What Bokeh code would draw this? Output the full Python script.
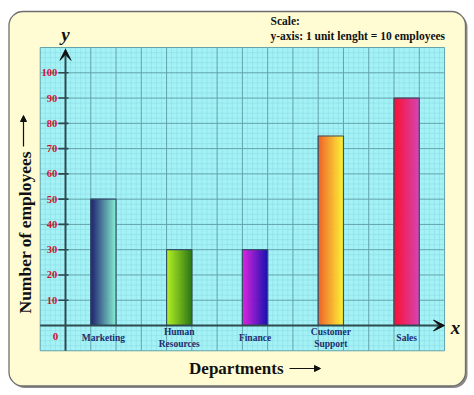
import numpy as np
from bokeh.plotting import figure
from bokeh.models import Range1d, Arrow, VeeHead, NormalHead
from bokeh.core.properties import value
from bokeh.embed import file_html
from bokeh.resources import INLINE

# ---- data ----
departments = ["Marketing", "Human\nResources", "Finance", "Customer\nSupport", "Sales"]
employees = [50, 30, 30, 75, 90]
y_ticks = [10, 20, 30, 40, 50, 60, 70, 80, 90, 100]
y_tick_labels = [str(t) for t in y_ticks]
scale_title = "Scale:"
scale_text = "y-axis: 1 unit lenght = 10 employees"

# ---- styles ----
left_colors = ["#1c1a6a", "#b8f422", "#e422e0", "#f25e28", "#ff0c2c"]
right_colors = ["#84ecd0", "#2c7612", "#1a0eae", "#fff232", "#d842b2"]
FONT = value("Liberation Serif")

# screen -> data helpers for decoration only (x0 at 65px, 25.27px per cell; y0 at 325px, 2.527px per unit)
def sx(px):
    return (px - 65.0) / 25.27

def sy(py):
    return (325.0 - py) / 2.527

W, H = 474, 395
p = figure(width=W, height=H, x_range=Range1d(sx(0), sx(W)), y_range=Range1d(sy(H), sy(0)),
           toolbar_location=None, output_backend="svg", min_border=0,
           x_axis_location=None, y_axis_location=None)
p.grid.visible = False
p.outline_line_color = None
p.background_fill_color = "white"
p.border_fill_color = "white"

# panel shadow + cream panel
p.quad(left=sx(10.5), right=sx(467), top=sy(13), bottom=sy(387.5), fill_color="#8a8a8a",
       line_color=None, border_radius=14)
p.quad(left=sx(8.5), right=sx(465), top=sy(11), bottom=sy(385.5), fill_color="#fffbd2",
       line_color="#6e6e6e", line_width=1.3, border_radius=14)

# grid area
gx0, gx1 = -1, 15
gy0, gy1 = -10, 110
p.quad(left=gx0, right=gx1, top=gy1, bottom=gy0, fill_color="#a4f2f6", line_color=None)
mx = [v for v in np.arange(gx0, gx1 + 1e-9, 0.2) if abs(v - round(v)) > 1e-6]
my = [v for v in np.arange(gy0, gy1 + 1e-9, 2.0) if abs(v / 10 - round(v / 10)) > 1e-6]
p.segment(x0=mx, x1=mx, y0=gy0, y1=gy1, line_color="#8cdde6", line_width=0.6)
p.segment(x0=gx0, x1=gx1, y0=my, y1=my, line_color="#8cdde6", line_width=0.6)
Mx = list(np.arange(gx0, gx1 + 1e-9, 1.0))
My = list(np.arange(gy0, gy1 + 1e-9, 10.0))
p.segment(x0=Mx, x1=Mx, y0=gy0, y1=gy1, line_color="#63a3ab", line_width=1)
p.segment(x0=gx0, x1=gx1, y0=My, y1=My, line_color="#63a3ab", line_width=1)

# gradient bars
def hex2rgb(h):
    return np.array([int(h[i:i + 2], 16) for i in (1, 3, 5)], dtype=float)

pos = np.arange(len(departments)) * 3 + 1.0
n = 36
for i, v in enumerate(employees):
    c0, c1 = hex2rgb(left_colors[i]), hex2rgb(right_colors[i])
    t = (np.arange(n) + 0.5) / n
    cols = ["#%02x%02x%02x" % tuple(int(round(c)) for c in (c0 + (c1 - c0) * tt)) for tt in t]
    lefts = pos[i] + np.arange(n) / n
    p.quad(left=lefts, right=lefts + 1.0 / n, bottom=0, top=v, fill_color=cols, line_color=cols,
           line_width=0.6)
p.quad(left=pos, right=pos + 1, bottom=0, top=employees, fill_color=None, line_color="#34506a",
       line_width=1.2)

# axes
axis_col = "#2c4a50"
p.add_layout(Arrow(end=VeeHead(size=11, fill_color="#111111", line_color="#111111"),
                   x_start=gx0, y_start=0, x_end=15.0, y_end=0, line_color=axis_col, line_width=2))
p.add_layout(Arrow(end=VeeHead(size=11, fill_color="#111111", line_color="#111111"),
                   x_start=0, y_start=gy0, x_end=0, y_end=109.3, line_color=axis_col, line_width=2))
p.segment(x0=-0.28, x1=0.12, y0=y_ticks, y1=y_ticks, line_color=axis_col, line_width=1.6)

# y tick labels
p.text(x=-0.33, y=y_ticks, text=y_tick_labels, text_font=FONT, text_font_style="bold",
       text_font_size="10.5px", text_color="#d0122e", text_align="right", text_baseline="middle")
p.text(x=[-0.4], y=[-4.5], text=["0"], text_font=FONT, text_font_style="bold",
       text_font_size="11px", text_color="#d0122e", text_align="center", text_baseline="middle")

# category labels
p.text(x=pos + 0.5, y=-5.0, text=departments, text_font=FONT, text_font_style="bold",
       text_font_size="9.5px", text_color="#1c2d6e", text_align="center", text_baseline="middle",
       text_line_height=1.15)

# axis letters
p.text(x=[0], y=[sy(34)], text=["y"], text_font=FONT, text_font_style="bold italic",
       text_font_size="19px", text_color="#111111", text_align="center", text_baseline="middle")
p.text(x=[sx(455)], y=[sy(327)], text=["x"], text_font=FONT, text_font_style="bold italic",
       text_font_size="19px", text_color="#111111", text_align="center", text_baseline="middle")

# scale note
p.text(x=[sx(270)], y=[sy(20)], text=[scale_title], text_font=FONT, text_font_style="bold",
       text_font_size="11.5px", text_color="#111111", text_align="left", text_baseline="middle")
p.text(x=[sx(270)], y=[sy(35)], text=[scale_text], text_font=FONT, text_font_style="bold",
       text_font_size="11.5px", text_color="#111111", text_align="left", text_baseline="middle")

# axis titles
p.text(x=[sx(283)], y=[sy(368)], text=["Departments"], text_font=FONT, text_font_style="bold",
       text_font_size="17px", text_color="#111111", text_align="right", text_baseline="middle")
p.add_layout(Arrow(end=NormalHead(size=6, fill_color="#111111", line_color="#111111"),
                   x_start=sx(289), y_start=sy(368), x_end=sx(320), y_end=sy(368),
                   line_color="#111111", line_width=1.2))
p.text(x=[sx(24)], y=[sy(313)], text=["Number of employees"], text_font=FONT, text_font_style="bold",
       text_font_size="17.5px", text_color="#111111", text_align="left", text_baseline="middle",
       angle=np.pi / 2)
p.add_layout(Arrow(end=NormalHead(size=6, fill_color="#111111", line_color="#111111"),
                   x_start=sx(23), y_start=sy(146), x_end=sx(23), y_end=sy(115),
                   line_color="#111111", line_width=1.2))

open("out.html", "w").write(file_html(p, INLINE))
